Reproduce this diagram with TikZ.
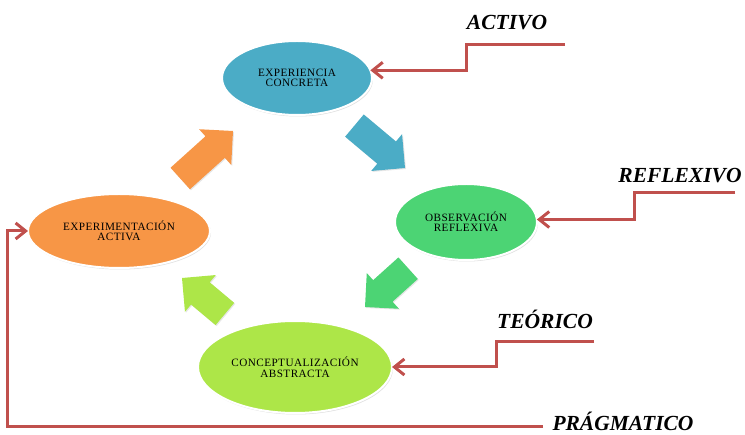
\documentclass[tikz,border=0pt]{standalone}
\usepackage{fontspec}
\setmainfont{Liberation Serif}
\usetikzlibrary{arrows.meta,shadows,calc,shapes.geometric}
\definecolor{cblue}{RGB}{75,172,198}
\definecolor{cgreen}{RGB}{76,212,116}
\definecolor{clime}{RGB}{173,230,72}
\definecolor{corange}{RGB}{247,150,70}
\definecolor{cred}{RGB}{192,80,77}
\tikzset{
  stage/.style={ellipse, fill=#1, draw=white, line width=2pt, align=center,
    inner sep=0pt, outer sep=0pt,
    drop shadow={opacity=0.25, shadow xshift=1pt, shadow yshift=-1.5pt},
    font=\fontsize{11.2}{10.5}\selectfont\addfontfeature{LetterSpace=4}},
  label/.style={font=\fontsize{21.5}{22}\selectfont\bfseries\itshape, text=black, inner sep=0pt, anchor=base},
  redline/.style={draw=cred, line width=3pt, -{Straight Barb[length=10pt,width=16pt]}},
  blockarrow/.style={fill=#1, draw=none,
    drop shadow={opacity=0.2, shadow xshift=1pt, shadow yshift=-1pt}}
}
\newcommand{\blockarr}[4]{% color, tip, angle, length
  \begin{scope}[shift={#2}, rotate=#3]
    \fill[blockarrow=#1] (0,0) -- (-24,24) -- (-24,14.5) -- (-#4,14.5) -- (-#4,-14.5) -- (-24,-14.5) -- (-24,-24) -- cycle;
  \end{scope}}
\begin{document}
\begin{tikzpicture}[x=1pt,y=-1pt]
\useasboundingbox (0,0) rectangle (745,435);
% stages
\node[stage=cblue, minimum width=150pt, minimum height=74pt] (ec) at (297,78) {EXPERIENCIA\\CONCRETA};
\node[stage=cgreen, minimum width=142pt, minimum height=76pt] (ob) at (466,222) {OBSERVACIÓN\\REFLEXIVA};
\node[stage=clime, minimum width=194pt, minimum height=92pt] (ca) at (295,367) {CONCEPTUALIZACIÓN\\ABSTRACTA};
\node[stage=corange, minimum width=182pt, minimum height=74pt] (ea) at (119,231) {EXPERIMENTACIÓN\\ACTIVA};
% block arrows
\blockarr{corange}{(233,131)}{42}{71}
\blockarr{cblue}{(405,168)}{-40}{66}
\blockarr{cgreen}{(365,307)}{-138}{58}
\blockarr{clime}{(182,278)}{140}{56}
% labels
\node[label] (lact) at (507,30) {ACTIVO};
\node[label] (lref) at (680,183) {REFLEXIVO};
\node[label] (lteo) at (545,329) {TEÓRICO};
\node[label] (lpra) at (623,431) {PRÁGMATICO};
% red connectors
\coordinate (sact) at (565,45);
\coordinate (sref) at (735,193);
\coordinate (steo) at (594,342);
\coordinate (spra) at (543,427);
\draw[redline] (sact) -| ([xshift=96pt]ec.6.5) -- (ec.6.5);
\draw[redline] (sref) -| ([xshift=98pt]ob.2) -- (ob.2);
\draw[redline] (steo) -| ([xshift=104pt]ca.east) -- (ca.east);
\draw[redline] (spra) -| ([xshift=-21pt]ea.west) -- (ea.west);
\end{tikzpicture}
\end{document}
